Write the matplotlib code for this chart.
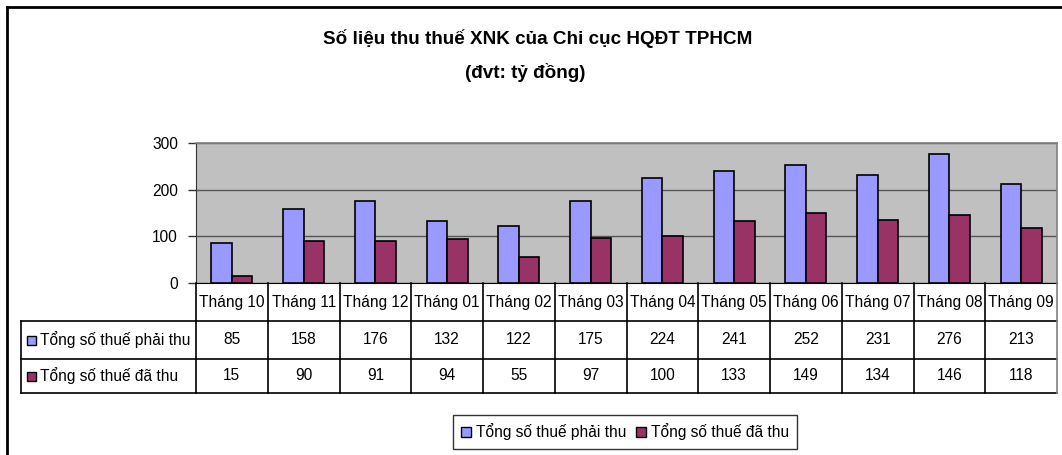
import matplotlib
matplotlib.use("Agg")
import matplotlib.pyplot as plt
from matplotlib.lines import Line2D
from matplotlib.patches import Rectangle

# ---------------- data ----------------
title_line1 = "Số liệu thu thuế XNK của Chi cục HQĐT TPHCM"
title_line2 = "(đvt: tỷ đồng)"
months = ["Tháng 10", "Tháng 11", "Tháng 12", "Tháng 01", "Tháng 02", "Tháng 03",
          "Tháng 04", "Tháng 05", "Tháng 06", "Tháng 07", "Tháng 08", "Tháng 09"]
series_names = ["Tổng số thuế phải thu", "Tổng số thuế đã thu"]
phai_thu = [85, 158, 176, 132, 122, 175, 224, 241, 252, 231, 276, 213]
da_thu = [15, 90, 91, 94, 55, 97, 100, 133, 149, 134, 146, 118]
y_ticks = [0, 100, 200, 300]

# ---------------- style ----------------
W, H = 1062, 455
plt.rcParams['font.family'] = ['Liberation Sans', 'DejaVu Sans']
colors = ["#9999FF", "#993366"]
FS = 11.2

fig = plt.figure(figsize=(W / 100, H / 100), dpi=100)
fig.patch.set_facecolor("white")


def fx(x):
    return x / W


def fy(y):
    return 1 - y / H


# outer chart border (top and left visible)
fig.add_artist(Line2D([fx(7), fx(W)], [fy(7), fy(7)], color="black", lw=2))
fig.add_artist(Line2D([fx(7), fx(7)], [fy(7), fy(H)], color="black", lw=2))

# title
fig.text(fx(538), fy(39), title_line1, ha="center", va="center",
         fontsize=13.6, fontweight="bold")
fig.text(fx(525), fy(73), title_line2, ha="center", va="center",
         fontsize=13.6, fontweight="bold")

# plot area
PL, PR, PT, PB = 196, 1057, 143, 283
ax = fig.add_axes([fx(PL), fy(PB), fx(PR) - fx(PL), fy(PT) - fy(PB)])
ax.set_facecolor("#C0C0C0")
n = len(months)
w = 1 / 3.5
xs = list(range(n))
ax.bar([x - w / 2 for x in xs], phai_thu, width=w, color=colors[0], edgecolor="black",
       linewidth=1.2, zorder=3)
ax.bar([x + w / 2 for x in xs], da_thu, width=w, color=colors[1], edgecolor="black",
       linewidth=1.2, zorder=3)
ax.set_xlim(-0.5, n - 0.5)
ax.set_ylim(0, 300)
ax.set_yticks(y_ticks)
ax.set_yticklabels([str(v) for v in y_ticks], fontsize=FS)
ax.yaxis.grid(True, color="#555555", lw=1, zorder=1)
ax.set_axisbelow(True)
ax.set_xticks([])
ax.tick_params(axis="y", length=6, width=1, color="#333333", pad=7)
ax.spines["top"].set_color("#808080")
ax.spines["right"].set_color("#808080")
ax.spines["top"].set_linewidth(1.2)
ax.spines["right"].set_linewidth(1.2)
ax.spines["left"].set_color("#333333")
ax.spines["bottom"].set_color("black")

# data table
col_w = (PR - PL) / n
R0, R1, R2, R3 = 283, 321, 359, 393
TL = 21
lc = "black"
lw = 1.2
for yy in (R1, R2, R3):
    fig.add_artist(Line2D([fx(TL), fx(PR)], [fy(yy), fy(yy)], color=lc, lw=lw))
fig.add_artist(Line2D([fx(TL), fx(TL)], [fy(R1), fy(R3)], color=lc, lw=lw))
for i in range(n + 1):
    xx = PL + i * col_w
    fig.add_artist(Line2D([fx(xx), fx(xx)], [fy(R0), fy(R3)],
                          color=("#808080" if i == n else lc), lw=lw))
for i, m in enumerate(months):
    cx = PL + (i + 0.5) * col_w
    fig.text(fx(cx), fy((R0 + R1) / 2), m, ha="center", va="center", fontsize=FS)
    fig.text(fx(cx), fy((R1 + R2) / 2), str(phai_thu[i]), ha="center", va="center", fontsize=FS)
    fig.text(fx(cx), fy((R2 + R3) / 2), str(da_thu[i]), ha="center", va="center", fontsize=FS)
for k, (name, yy) in enumerate(zip(series_names, [(R1 + R2) / 2, (R2 + R3) / 2])):
    fig.add_artist(Rectangle((fx(27), fy(yy + 5)), fx(9), 9 / H, facecolor=colors[k],
                             edgecolor="black", lw=1))
    fig.text(fx(40), fy(yy), name, ha="left", va="center", fontsize=FS)

# legend
handles = [Rectangle((0, 0), 1, 1, facecolor=colors[k], edgecolor="black", lw=1)
           for k in range(2)]
leg = fig.legend(handles, series_names, loc="center",
                 bbox_to_anchor=(fx((457 + 793) / 2), fy((413 + 451) / 2)),
                 ncol=2, fontsize=FS, frameon=True, fancybox=False, shadow=False,
                 handlelength=0.65, handleheight=0.65, handletextpad=0.3,
                 columnspacing=0.6, borderpad=0.55, borderaxespad=0)
leg.get_frame().set_edgecolor("black")
leg.get_frame().set_linewidth(1)

fig.savefig("out.png", dpi=100)
